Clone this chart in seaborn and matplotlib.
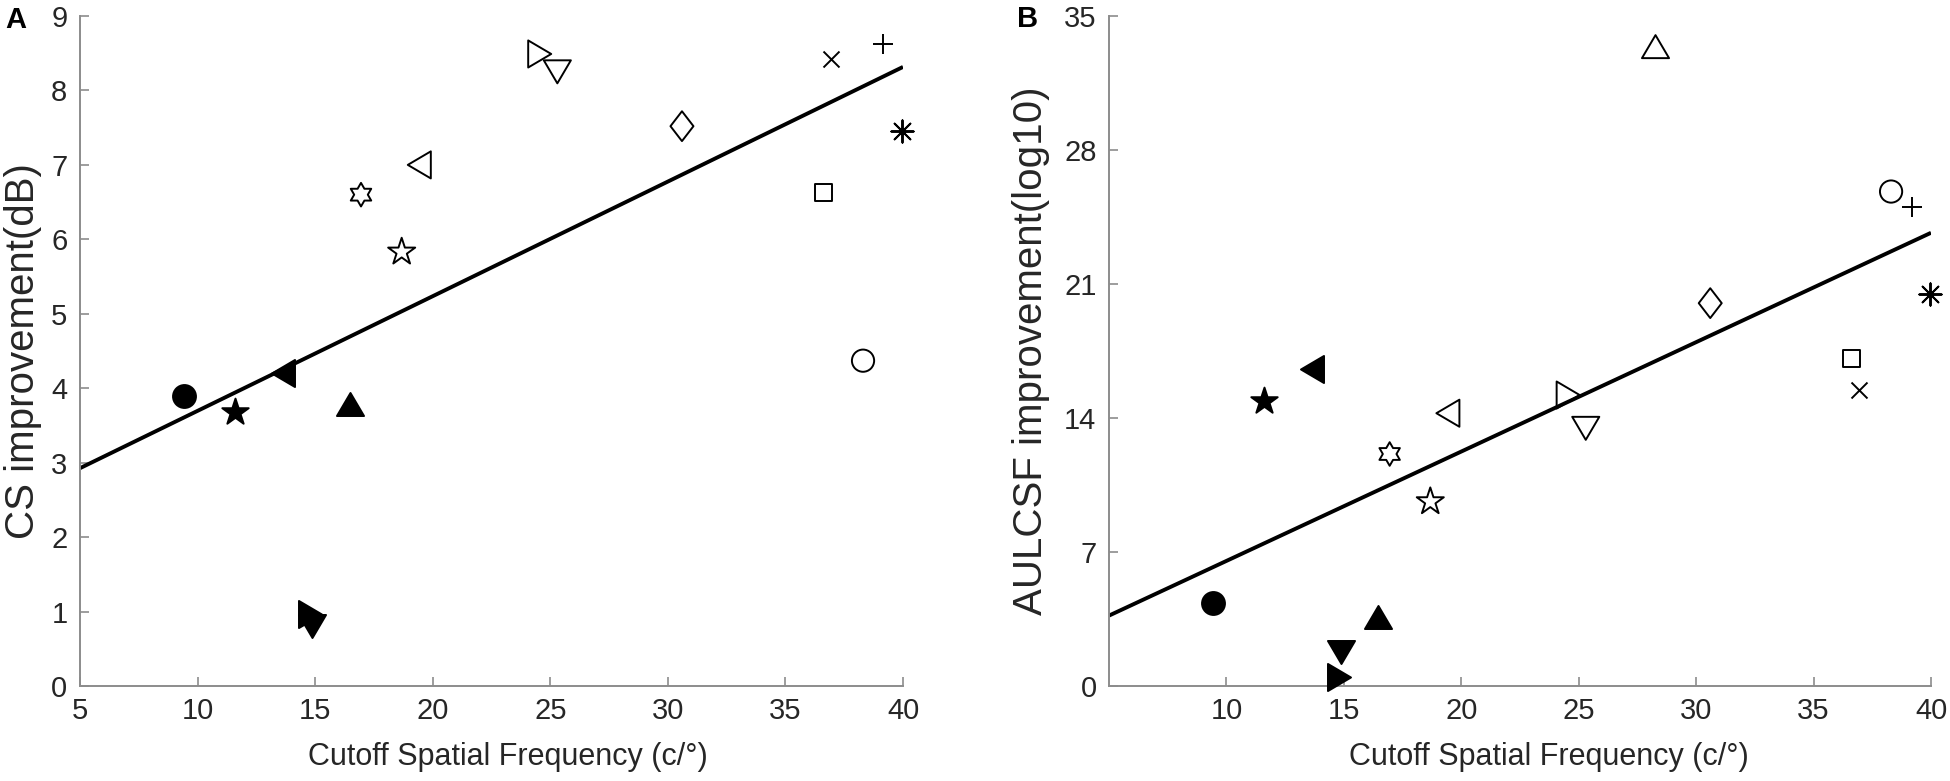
import numpy as np
import pandas as pd
import matplotlib
matplotlib.use("Agg")
import matplotlib.pyplot as plt
from matplotlib.markers import MarkerStyle
from matplotlib.path import Path
import seaborn as sns

# ---------------- data ----------------
marker_keys = ["circle_f", "star_f", "tri_left_f", "tri_up_f", "tri_down_f", "tri_right_f",
               "hexagram", "pentagram", "tri_left", "tri_right", "tri_down", "diamond",
               "cross", "plus", "asterisk", "square", "circle", "tri_up"]
cutoff_sf = [9.41, 11.60, 13.65, 16.47, 14.88, 14.80,
             16.95, 18.68, 19.43, 24.55, 25.30, 30.60,
             36.93, 39.17, 39.95, 36.60, 38.30, 28.27]
cs_improvement = [3.89, 3.68, 4.20, 3.79, 0.80, 0.97,
                  6.60, 5.83, 7.00, 8.49, 8.25, 7.52,
                  8.42, 8.63, 7.46, 6.63, 4.37, 9.35]
aulcsf_improvement = [4.32, 14.90, 16.55, 3.58, 1.79, 0.49,
                      12.12, 9.63, 14.25, 15.20, 13.46, 20.00,
                      15.46, 25.04, 20.48, 17.12, 25.83, 33.40]

xticks_a = [5, 10, 15, 20, 25, 30, 35, 40]
xticks_b = [10, 15, 20, 25, 30, 35, 40]
yticks_a = [0, 1, 2, 3, 4, 5, 6, 7, 8, 9]
yticks_b = [0, 7, 14, 21, 28, 35]

df = pd.DataFrame({"marker": marker_keys, "sf": cutoff_sf,
                   "cs": cs_improvement, "aulcsf": aulcsf_improvement})

# ---------------- marker styles ----------------
def tri(direction):
    h = 0.85
    pts = {"up": [(0, h), (-1, -h), (1, -h)],
           "down": [(0, -h), (-1, h), (1, h)],
           "left": [(-h, 0), (h, 1), (h, -1)],
           "right": [(h, 0), (-h, 1), (-h, -1)]}[direction]
    return MarkerStyle(Path(pts + [pts[0]], closed=True))

diamond = MarkerStyle(Path([(0, 1), (0.77, 0), (0, -1), (-0.77, 0), (0, 1)], closed=True))
hexagram = MarkerStyle(Path.unit_regular_star(6, innerCircle=0.57735))

# key: (marker, size in pt, kind)
styles = {
    "circle_f": ("o", 16.5, "filled"),
    "star_f": ("*", 20.0, "filled"),
    "tri_left_f": (tri("left"), 19.5, "filled"),
    "tri_up_f": (tri("up"), 19.5, "filled"),
    "tri_down_f": (tri("down"), 19.5, "filled"),
    "tri_right_f": (tri("right"), 19.5, "filled"),
    "hexagram": (hexagram, 17.0, "open"),
    "pentagram": ("*", 20.5, "open"),
    "tri_left": (tri("left"), 19.5, "open"),
    "tri_right": (tri("right"), 19.5, "open"),
    "tri_down": (tri("down"), 19.5, "open"),
    "tri_up": (tri("up"), 19.5, "open"),
    "diamond": (diamond, 21.5, "open"),
    "cross": ("x", 11.5, "line"),
    "plus": ("+", 15.0, "line"),
    "asterisk": ((8, 2, 0), 16.0, "line"),
    "square": ("s", 12.2, "open"),
    "circle": ("o", 16.0, "open"),
}

text_c = "#262626"
axis_c = "#8c8c8c"
edge_lw = 1.4

sns.set_style("ticks")
plt.rcParams["font.family"] = ["Liberation Sans", "DejaVu Sans"]

fig = plt.figure(figsize=(19.5, 7.81), dpi=100)
W, H = 1950.0, 781.0
axA = fig.add_axes([80 / W, 1 - 686 / H, 823 / W, 670 / H])
axB = fig.add_axes([1109 / W, 1 - 686 / H, 822 / W, 670 / H])


def panel(ax, ycol, ylim, xticks, yticks, ylabel, ylab_x, xlab_x):
    ax.set_xlim(5, 40)
    ax.set_ylim(*ylim)
    sns.regplot(data=df, x="sf", y=ycol, ax=ax, scatter=False, ci=None,
                truncate=False, color="black",
                line_kws=dict(lw=2.8, solid_capstyle="butt", zorder=2))
    for i in range(len(df)):
        row = df.iloc[[i]]
        m, size, kind = styles[row["marker"].iloc[0]]
        yv = row[ycol].iloc[0]
        inside = ylim[0] <= yv <= ylim[1]
        kws = dict(marker=m, s=size ** 2, linewidth=edge_lw, legend=False,
                   zorder=3, clip_on=not inside)
        if kind == "filled":
            kws.update(color="black", edgecolor="black")
        elif kind == "open":
            kws.update(color="black", facecolor="none", edgecolor="black")
        else:
            kws.update(color="black")
        sns.scatterplot(data=row, x="sf", y=ycol, ax=ax, **kws)
    ax.set_xlim(5, 40)
    ax.set_ylim(*ylim)
    ax.set_xticks(xticks)
    ax.set_yticks(yticks)
    sns.despine(ax=ax)
    for s in ["left", "bottom"]:
        ax.spines[s].set_color(axis_c)
        ax.spines[s].set_linewidth(1.4)
    ax.tick_params(direction="in", length=6.5, width=1.2, color=axis_c,
                   labelsize=21, labelcolor=text_c)
    ax.tick_params(axis="x", pad=8)
    ax.tick_params(axis="y", pad=9)
    ax.set_xlabel("Cutoff Spatial Frequency (c/°)", fontsize=22, color=text_c)
    ax.xaxis.set_label_coords(xlab_x, -0.083)
    ax.set_ylabel(ylabel, fontsize=29, color=text_c)
    ax.yaxis.set_label_coords(ylab_x, 0.5)
    ax.grid(False)


panel(axA, "cs", (0, 9), xticks_a, yticks_a, "CS improvement(dB)", -0.046, 0.52)
panel(axB, "aulcsf", (0, 35), xticks_b, yticks_b, "AULCSF improvement(log10)", -0.072, 0.535)

fig.text(5 / W, 1 - 28 / H, "A", fontsize=21, fontweight="bold", color="black",
         ha="left", va="baseline")
fig.text(1017 / W, 1 - 27 / H, "B", fontsize=21, fontweight="bold", color="black",
         ha="left", va="baseline")

fig.savefig("out.png", dpi=100, facecolor="white")
